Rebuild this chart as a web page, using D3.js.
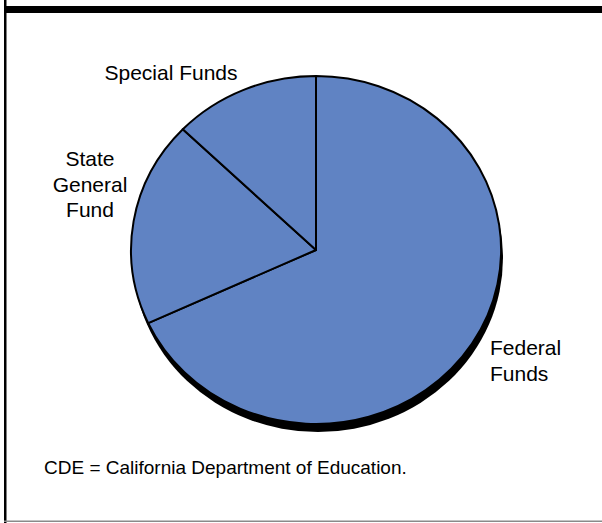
<!DOCTYPE html>
<html>
<head>
<meta charset="utf-8">
<script src="https://cdn.jsdelivr.net/npm/d3@7"></script>
<style>
  html, body { margin: 0; padding: 0; background: #fff; }
  svg { display: block; font-family: "Liberation Sans", Arial, sans-serif; }
</style>
</head>
<body>
<svg id="chart" width="602" height="523"></svg>
<script>
// Funding sources (share of total, %)
const categories = ["Federal Funds", "State General Fund", "Special Funds"];
const values = [68.1, 19.1, 12.8];
const footnote = "CDE = California Department of Education.";

const svg = d3.select("#chart");
const W = 602, H = 523;

// Frame
svg.append("rect").attr("x", 4).attr("y", 0).attr("width", 2.5).attr("height", H).attr("fill", "#000");
svg.append("rect").attr("x", 4).attr("y", 6).attr("width", W - 4).attr("height", 7).attr("fill", "#000");
svg.append("rect").attr("x", 4).attr("y", 520.5).attr("width", W - 4).attr("height", 1.5).attr("fill", "#8a8a8a");

// Pie geometry (drawn on a unit circle, stretched into an ellipse)
const cx = 316, cy = 250, rx = 185, ry = 174;

const pie = d3.pie().sort(null).value(d => d)
  .startAngle(0).endAngle(2 * Math.PI);
const arcs = pie(values);
const arc = d3.arc().innerRadius(0).outerRadius(1);

// Depth shadow under the pie
svg.append("ellipse")
  .attr("cx", cx + 2).attr("cy", cy + 8)
  .attr("rx", rx).attr("ry", ry)
  .attr("fill", "#000");

const g = svg.append("g")
  .attr("transform", `translate(${cx},${cy}) scale(${rx},${ry})`);

g.selectAll("path.slice")
  .data(arcs)
  .join("path")
  .attr("class", "slice")
  .attr("d", arc)
  .attr("fill", "#6083c3")
  .attr("stroke", "#000")
  .attr("stroke-width", 2)
  .attr("stroke-linejoin", "round")
  .attr("vector-effect", "non-scaling-stroke");

// Slice labels
const labels = [
  { lines: ["Federal", "Funds"], x: 490, y: 355, anchor: "start" },
  { lines: ["State", "General", "Fund"], x: 90, y: 166, anchor: "middle" },
  { lines: ["Special Funds"], x: 171, y: 80, anchor: "middle" }
];

labels.forEach((l, i) => {
  const t = svg.append("text")
    .attr("x", l.x).attr("y", l.y)
    .attr("text-anchor", l.anchor)
    .attr("font-size", 21)
    .attr("fill", "#000")
    .attr("aria-label", categories[i]);
  l.lines.forEach((s, j) => {
    t.append("tspan").attr("x", l.x).attr("dy", j === 0 ? 0 : 25.5).text(s);
  });
});

// Footnote
svg.append("text")
  .attr("x", 44).attr("y", 474)
  .attr("font-size", 19)
  .attr("fill", "#000")
  .text(footnote);
</script>
</body>
</html>
